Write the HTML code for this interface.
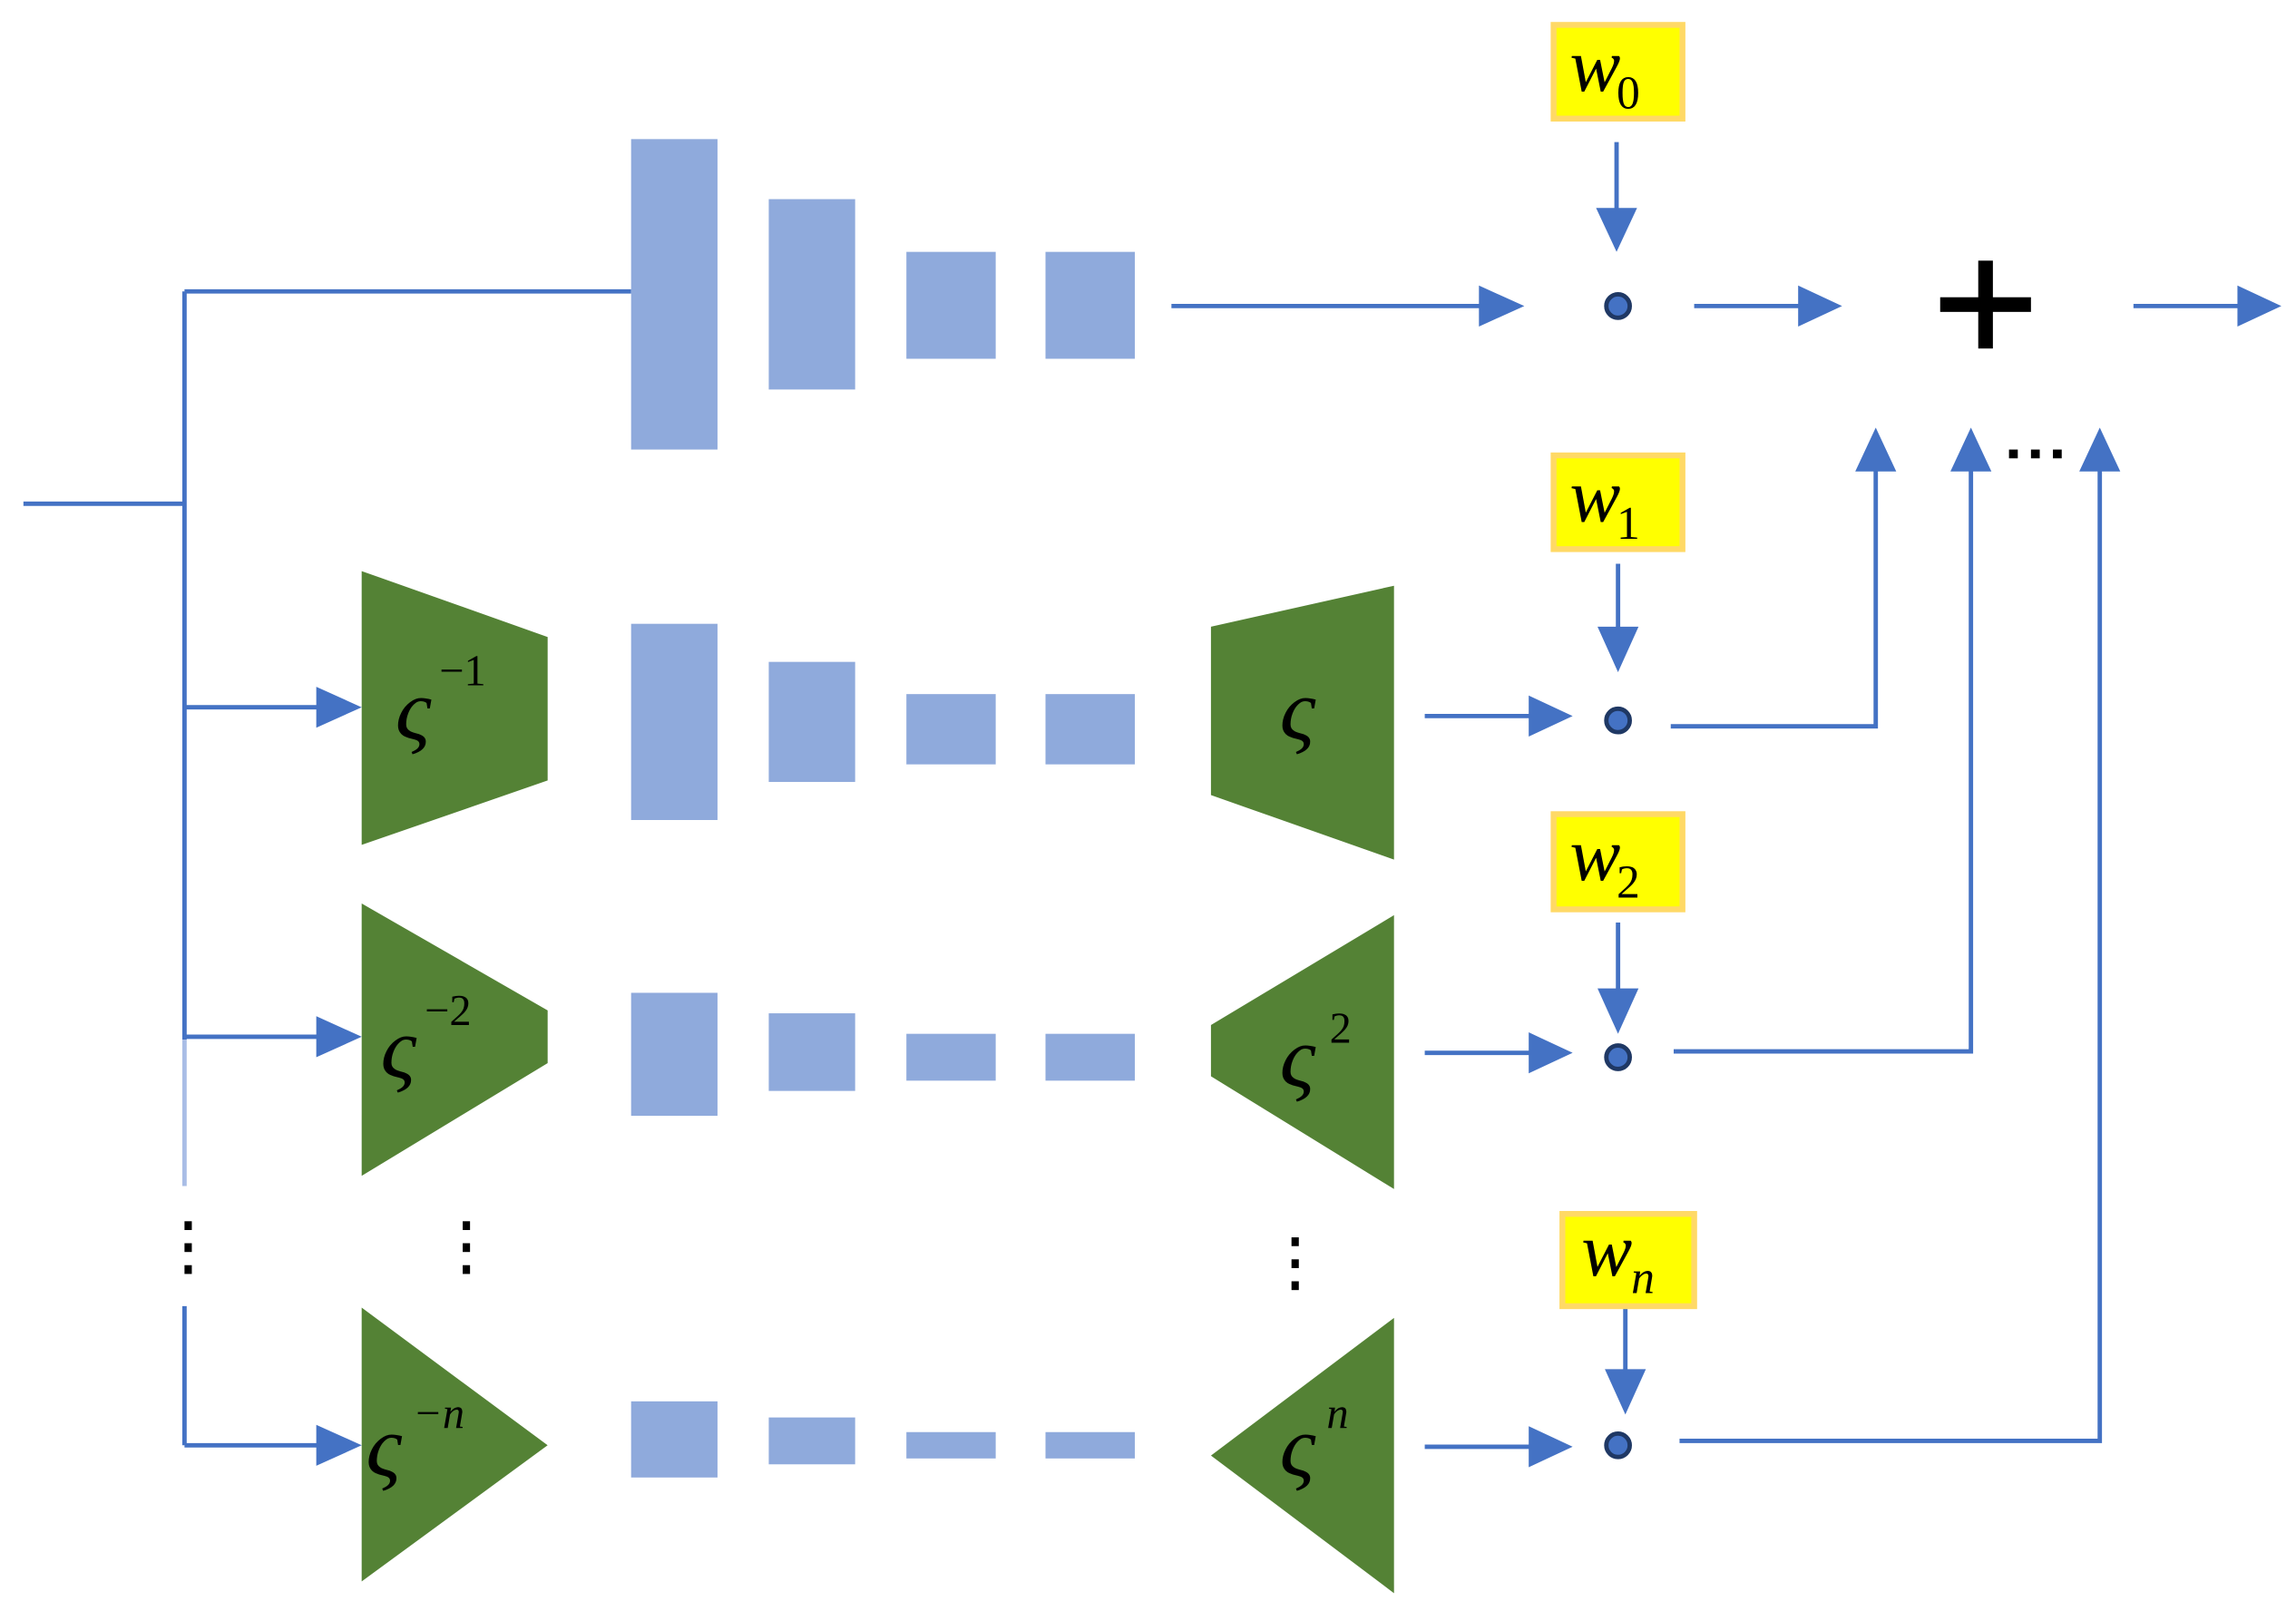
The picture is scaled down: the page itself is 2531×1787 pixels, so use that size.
<!DOCTYPE html>
<html><head><style>html,body{margin:0;padding:0;background:#fff}svg{display:block}</style></head>
<body>
<svg width="2531" height="1787" viewBox="0 0 1568 1107" preserveAspectRatio="none" xmlns="http://www.w3.org/2000/svg">
<g stroke="#4472C4" stroke-width="3" fill="none">
<path d="M16,344 H126 M126,199 H431 M126,199 V710"/>
<path d="M126,710 V810" stroke="#a9bde6"/>
<path d="M126,892 V987"/>
</g>
<g stroke="#4472C4" stroke-width="3">
<line x1="126" y1="483" x2="218" y2="483"/>
<line x1="126" y1="708" x2="218" y2="708"/>
<line x1="126" y1="987" x2="218" y2="987"/>
<line x1="800" y1="209" x2="1012" y2="209"/>
<line x1="1157" y1="209" x2="1230" y2="209"/>
<line x1="1457" y1="209" x2="1530" y2="209"/>
<line x1="1104" y1="97" x2="1104" y2="145"/>
<line x1="1105" y1="385" x2="1105" y2="431"/>
<line x1="1105" y1="630" x2="1105" y2="678"/>
<line x1="1110" y1="893" x2="1110" y2="938"/>
<line x1="973" y1="489" x2="1046" y2="489"/>
<line x1="973" y1="719" x2="1046" y2="719"/>
<line x1="973" y1="988" x2="1046" y2="988"/>
<polyline fill="none" points="1141,496 1281,496 1281,320"/>
<polyline fill="none" points="1143,718 1346,718 1346,320"/>
<polyline fill="none" points="1147,984 1434,984 1434,320"/>
</g>
<g fill="#4472C4">
<path d="M216,469 L247,483 L216,497z"/>
<path d="M216,694 L247,708 L216,722z"/>
<path d="M216,973 L247,987 L216,1001z"/>
<path d="M1010,195 L1041,209 L1010,223z"/>
<path d="M1228,195 L1258,209 L1228,223z"/>
<path d="M1528,195 L1558,209 L1528,223z"/>
<path d="M1090,142 L1104,172 L1118,142z"/>
<path d="M1091,428 L1105,459 L1119,428z"/>
<path d="M1091,675 L1105,706 L1119,675z"/>
<path d="M1096,935 L1110,966 L1124,935z"/>
<path d="M1044,475 L1074,489 L1044,503z"/>
<path d="M1044,705 L1074,719 L1044,733z"/>
<path d="M1044,974 L1074,988 L1044,1002z"/>
<path d="M1267,322 L1281,292 L1295,322z"/>
<path d="M1332,322 L1346,292 L1360,322z"/>
<path d="M1420,322 L1434,292 L1448,322z"/>
</g>
<g fill="#8FAADC">
<rect x="431" y="95" width="59" height="212"/><rect x="525" y="136" width="59" height="130"/><rect x="619" y="172" width="61" height="73"/><rect x="714" y="172" width="61" height="73"/>
<rect x="431" y="426" width="59" height="134"/><rect x="525" y="452" width="59" height="82"/><rect x="619" y="474" width="61" height="48"/><rect x="714" y="474" width="61" height="48"/>
<rect x="431" y="678" width="59" height="84"/><rect x="525" y="692" width="59" height="53"/><rect x="619" y="706" width="61" height="32"/><rect x="714" y="706" width="61" height="32"/>
<rect x="431" y="957" width="59" height="52"/><rect x="525" y="968" width="59" height="32"/><rect x="619" y="978" width="61" height="18"/><rect x="714" y="978" width="61" height="18"/>
</g>
<g fill="#548235">
<path d="M247,390 L374,435 L374,533 L247,577z"/>
<path d="M247,617 L374,690 L374,726 L247,803z"/>
<path d="M247,893 L374,987 L247,1080z"/>
<path d="M952,400 L827,428 L827,543 L952,587z"/>
<path d="M952,625 L827,700 L827,735 L952,812z"/>
<path d="M952,900 L827,994 L952,1088z"/>
</g>
<g fill="#FFFF00" stroke="#FFD966" stroke-width="4">
<rect x="1061" y="17" width="88" height="64"/>
<rect x="1061" y="311" width="88" height="64"/>
<rect x="1061" y="556" width="88" height="65"/>
<rect x="1067" y="829" width="90" height="63"/>
</g>
<g font-family="'Liberation Serif',serif" fill="#000">
<text x="1072" y="62" font-size="52" font-style="italic">w</text><text x="1104" y="74" font-size="32">0</text>
<text x="1072" y="356" font-size="52" font-style="italic">w</text><text x="1104" y="368" font-size="32">1</text>
<text x="1072" y="601" font-size="52" font-style="italic">w</text><text x="1104" y="613" font-size="32">2</text>
<text x="1080" y="871" font-size="52" font-style="italic">w</text><text x="1114" y="883" font-size="32" font-style="italic">n</text>
<g font-size="60" font-style="italic">
<text x="270" y="505">ς</text><text x="300" y="468" font-size="30" font-style="normal">−1</text>
<text x="260" y="736">ς</text><text x="290" y="700" font-size="30" font-style="normal">−2</text>
<text x="250" y="1008">ς</text><text x="282" y="975" font-size="30">−n</text>
<text x="874" y="505">ς</text>
<text x="874" y="742">ς</text><text x="908" y="712" font-size="30" font-style="normal">2</text>
<text x="874" y="1008">ς</text><text x="906" y="975" font-size="30">n</text>
</g>
</g>
<g stroke="#1F3864">
<circle cx="1105" cy="209" r="8" fill="#4472C4" stroke-width="3"/>
<circle cx="1105" cy="492" r="8" fill="#4472C4" stroke-width="3"/>
<circle cx="1105" cy="722" r="8" fill="#4472C4" stroke-width="3"/>
<circle cx="1105" cy="987" r="8" fill="#4472C4" stroke-width="3"/>
</g>
<g fill="#000">
<rect x="1325" y="203" width="62" height="10"/><rect x="1351" y="178" width="10" height="60"/>
<rect x="1372" y="307" width="6" height="6"/><rect x="1387" y="307" width="6" height="6"/><rect x="1402" y="307" width="6" height="6"/>
<rect x="126" y="834" width="5" height="6"/><rect x="126" y="849" width="5" height="6"/><rect x="126" y="864" width="5" height="6"/>
<rect x="316" y="834" width="5" height="6"/><rect x="316" y="849" width="5" height="6"/><rect x="316" y="864" width="5" height="6"/>
<rect x="882" y="845" width="5" height="6"/><rect x="882" y="860" width="5" height="6"/><rect x="882" y="875" width="5" height="6"/>
</g>
</svg>
</body></html>
